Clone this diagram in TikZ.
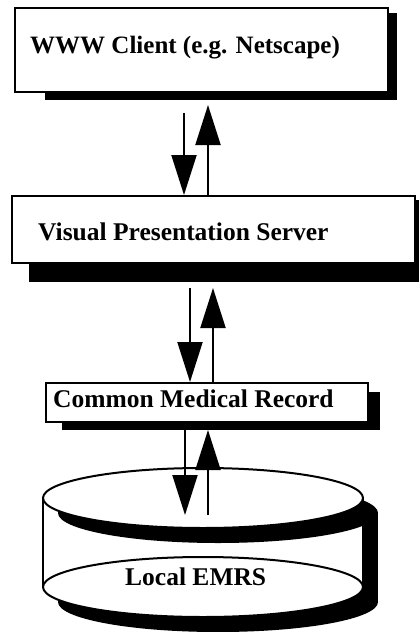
\documentclass[tikz,border=0pt]{standalone}
\usepackage{fontspec}
\setmainfont{Liberation Serif}
\usetikzlibrary{arrows.meta,calc}
\begin{document}
\begin{tikzpicture}[x=1pt,y=-1pt,
  frame/.style={draw=black, line width=2pt, fill=white, inner sep=0pt},
  caption/.style={font=\bfseries\fontsize{25.5}{28}\selectfont, anchor=base west, inner sep=0pt},
  link/.style={line width=2pt, -{Triangle[width=25pt,length=40pt]}},
  rim/.style={draw=black, line width=2pt, fill=white}]
\useasboundingbox (0,0) rectangle (418,632);

% --- WWW client box with its drop shadow
\fill (45,13) rectangle (397,100);
\node[frame, minimum width=373pt, minimum height=84pt] (client) at (201.5,50) {};
\node[caption, font=\bfseries\fontsize{25}{28}\selectfont] (clienttext) at (30,53) {WWW Client (e.g. Netscape)};

% --- presentation server box
\fill (29,200) rectangle (425,282);
\node[frame, minimum width=403pt, minimum height=67pt] (server) at (213.5,229.5) {};
\node[caption] (servertext) at (38,240) {Visual Presentation Server};

% --- common medical record box
\fill (62,392) rectangle (380,430);
\node[frame, minimum width=322pt, minimum height=39pt] (cmr) at (207,402.5) {};
\node[caption] (cmrtext) at (53,407) {Common Medical Record};

% --- local EMRS database drawn as a shadowed cylinder
\coordinate (dbtop) at (203,498);
\coordinate (dbbot) at (203,587);
\fill ($(dbbot)+(15,15)$) ellipse [x radius=160pt, y radius=30pt];
\fill (363,513) rectangle (378,602);
\fill[white] (43,498) rectangle (363,587);
\draw[rim] (dbbot) ellipse [x radius=160pt, y radius=30pt];
\draw[line width=1.5pt] (43,498) -- (43,587) (363,498) -- (363,587);
\fill ($(dbtop)+(15,15)$) ellipse [x radius=160pt, y radius=30pt];
\draw[rim] (dbtop) ellipse [x radius=160pt, y radius=30pt];
\node[caption] (dbtext) at (125,585) {Local EMRS};

% --- request / response arrows
\coordinate (d1) at (184,113);
\coordinate (u1) at (208,105);
\draw[link] (d1) -- (d1 |- server.north);
\draw[link] (u1 |- server.north) -- (u1);

\coordinate (d2) at (190,288);
\coordinate (u2) at (213,288);
\draw[link] (d2) -- (d2 |- cmr.north);
\draw[link] (u2 |- cmr.north) -- (u2);

\coordinate (d3) at (185,515);
\coordinate (u3) at (208,430);
\draw[link] (cmr.south -| d3) -- (d3);
\draw[link] (d3 -| u3) -- (u3);
\end{tikzpicture}
\end{document}
